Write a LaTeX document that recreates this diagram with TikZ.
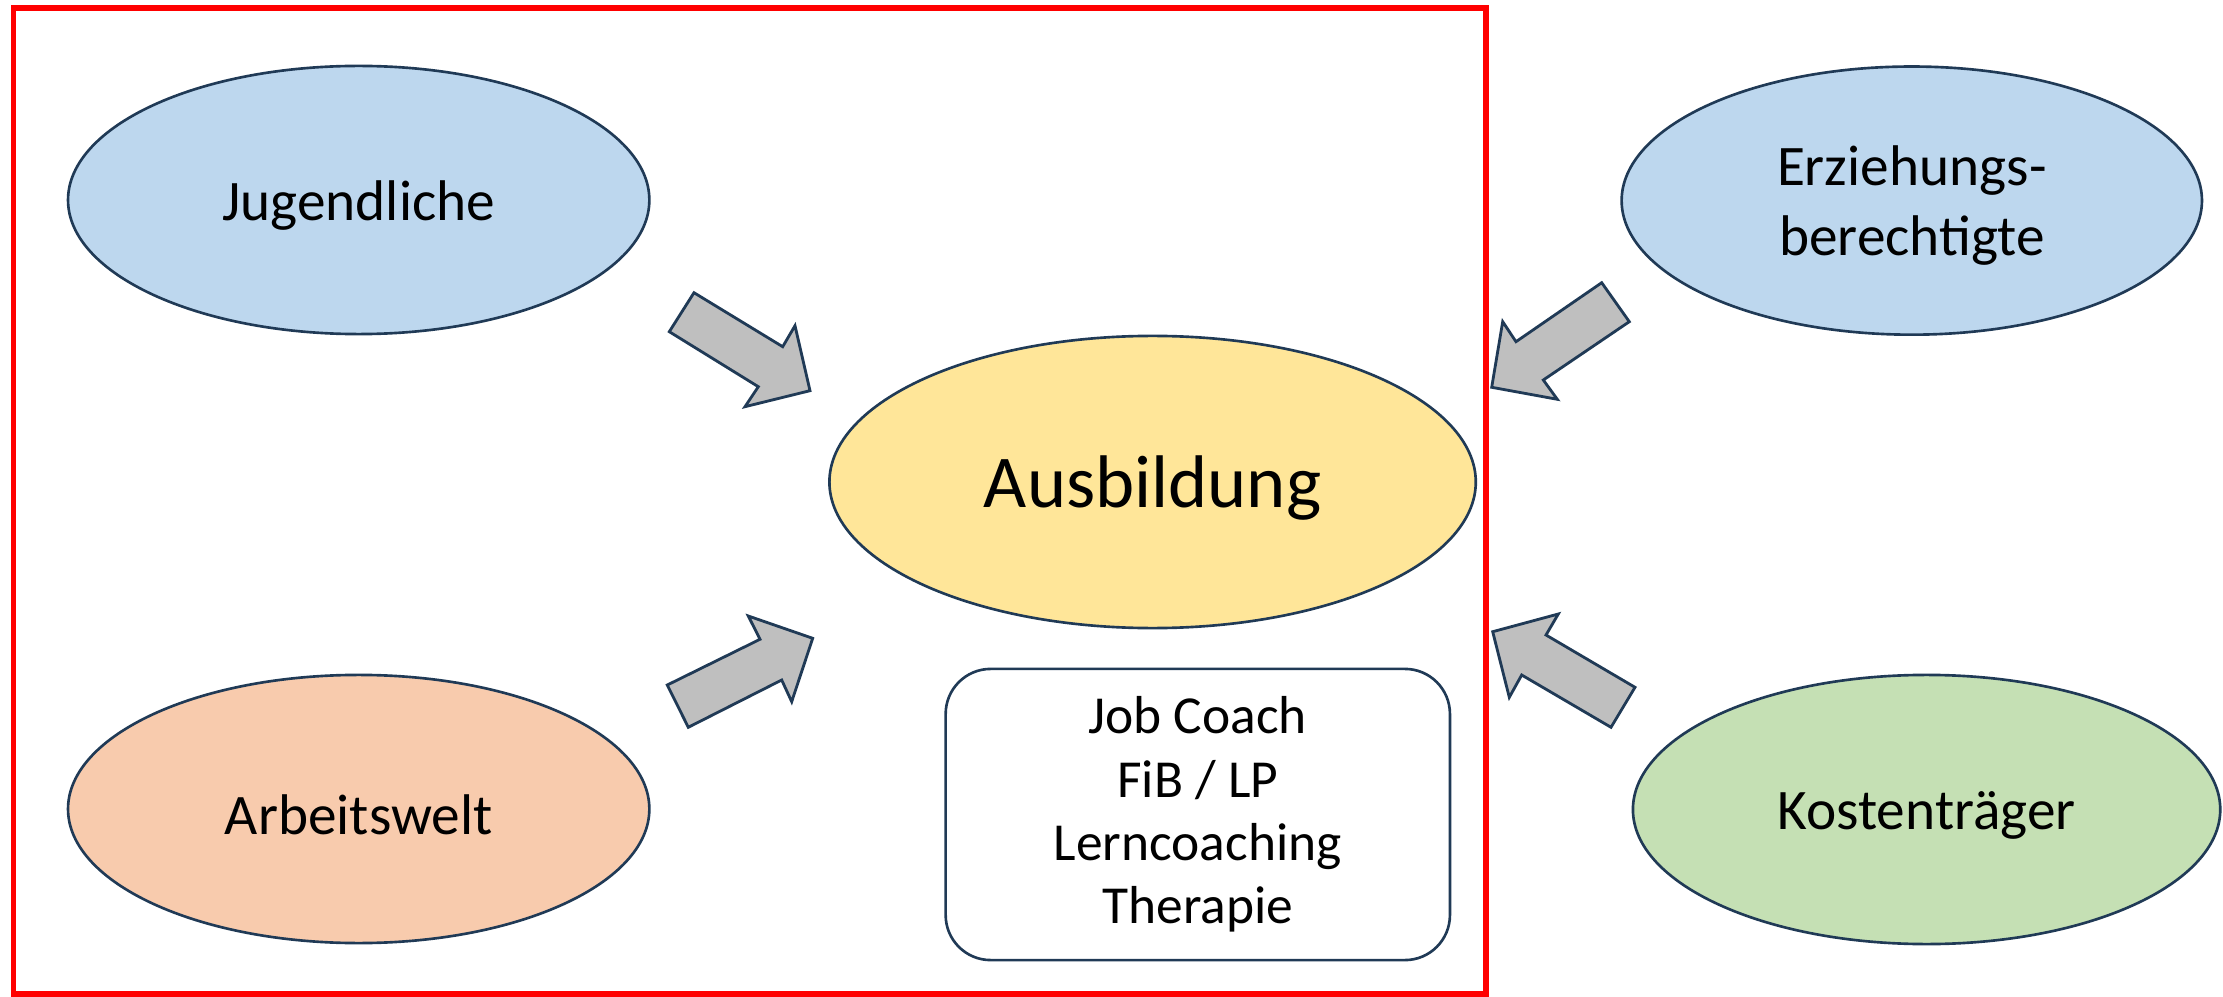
\documentclass[tikz,border=0pt]{standalone}
\usepackage{fontspec}
\setmainfont{Carlito}
\usetikzlibrary{shapes.geometric}
\definecolor{outl}{HTML}{203A56}
\definecolor{cblue}{HTML}{BDD7EE}
\definecolor{corange}{HTML}{F8CBAD}
\definecolor{cyellow}{HTML}{FFE699}
\definecolor{cgreen}{HTML}{C5E0B4}
\definecolor{cgray}{HTML}{BFBFBF}
\begin{document}
\begin{tikzpicture}[x=0.01cm,y=-0.01cm,
  ell/.style={ellipse,draw=outl,line width=0.75pt,inner sep=0pt,align=center,font=\fontsize{16.3}{19.9}\selectfont},
  lbl/.style={align=center,inner sep=0pt,font=\fontsize{16.3}{19.9}\selectfont},
  blockarrow/.style={draw=outl,fill=cgray,line width=0.8pt,line join=miter},
  frame/.style={draw=red,line width=1.7pt}]
\useasboundingbox (0,0) rectangle (2223,997);
\draw[frame] (13.5,8) rectangle (1485.5,994);
\node[ell,fill=cblue,minimum width=5.81cm,minimum height=2.68cm] (jug) at (358.7,200) {};
\node[lbl] (jugt) at (358.7,206) {Jugendliche};
\node[ell,fill=corange,minimum width=5.81cm,minimum height=2.68cm] (arb) at (358.7,809) {};
\node[lbl] (arbt) at (358.7,815) {Arbeitswelt};
\node[ell,fill=cyellow,minimum width=6.46cm,minimum height=2.92cm] (aus) at (1152.6,482) {};
\node[lbl,font=\fontsize{21.2}{25}\selectfont] (aust) at (1152.6,488) {Ausbildung};
\node[ell,fill=cblue,minimum width=5.80cm,minimum height=2.68cm] (erz) at (1911.8,200.6) {};
\node[lbl] (erzt) at (1911.8,206) {Erziehungs-\\berechtigte};
\node[ell,fill=cgreen,minimum width=5.87cm,minimum height=2.69cm] (kos) at (1926.6,809.5) {};
\node[lbl] (kost) at (1926.6,815) {Kostenträger};
\node[draw=outl,line width=0.75pt,rounded corners=0.45cm,minimum width=5.04cm,minimum height=2.91cm,align=center,inner sep=0pt,font=\fontsize{15.2}{18}\selectfont] (box) at (1197.8,814.5) {Job Coach\\FiB / LP\\Lerncoaching\\Therapie};
\draw[blockarrow] (669.3,331.7) -- (694,292.7) -- (782.7,346.7) -- (795,325.7) -- (810,390.7) -- (745,406.7) -- (758.3,386.7) -- cycle;
\draw[blockarrow] (667.3,685) -- (688.3,727.3) -- (781.7,680) -- (791.7,701.7) -- (812.7,638.3) -- (748.3,616) -- (760,639.3) -- cycle;
\draw[blockarrow] (1601.7,282.7) -- (1629.3,321.7) -- (1543.3,380) -- (1557.3,399.3) -- (1491.7,387.3) -- (1502.7,321.7) -- (1516,341.7) -- cycle;
\draw[blockarrow] (1635,687.3) -- (1611,727.3) -- (1521.7,675) -- (1509.3,697.3) -- (1492.7,631.7) -- (1558.3,614) -- (1546,635) -- cycle;
\end{tikzpicture}
\end{document}
